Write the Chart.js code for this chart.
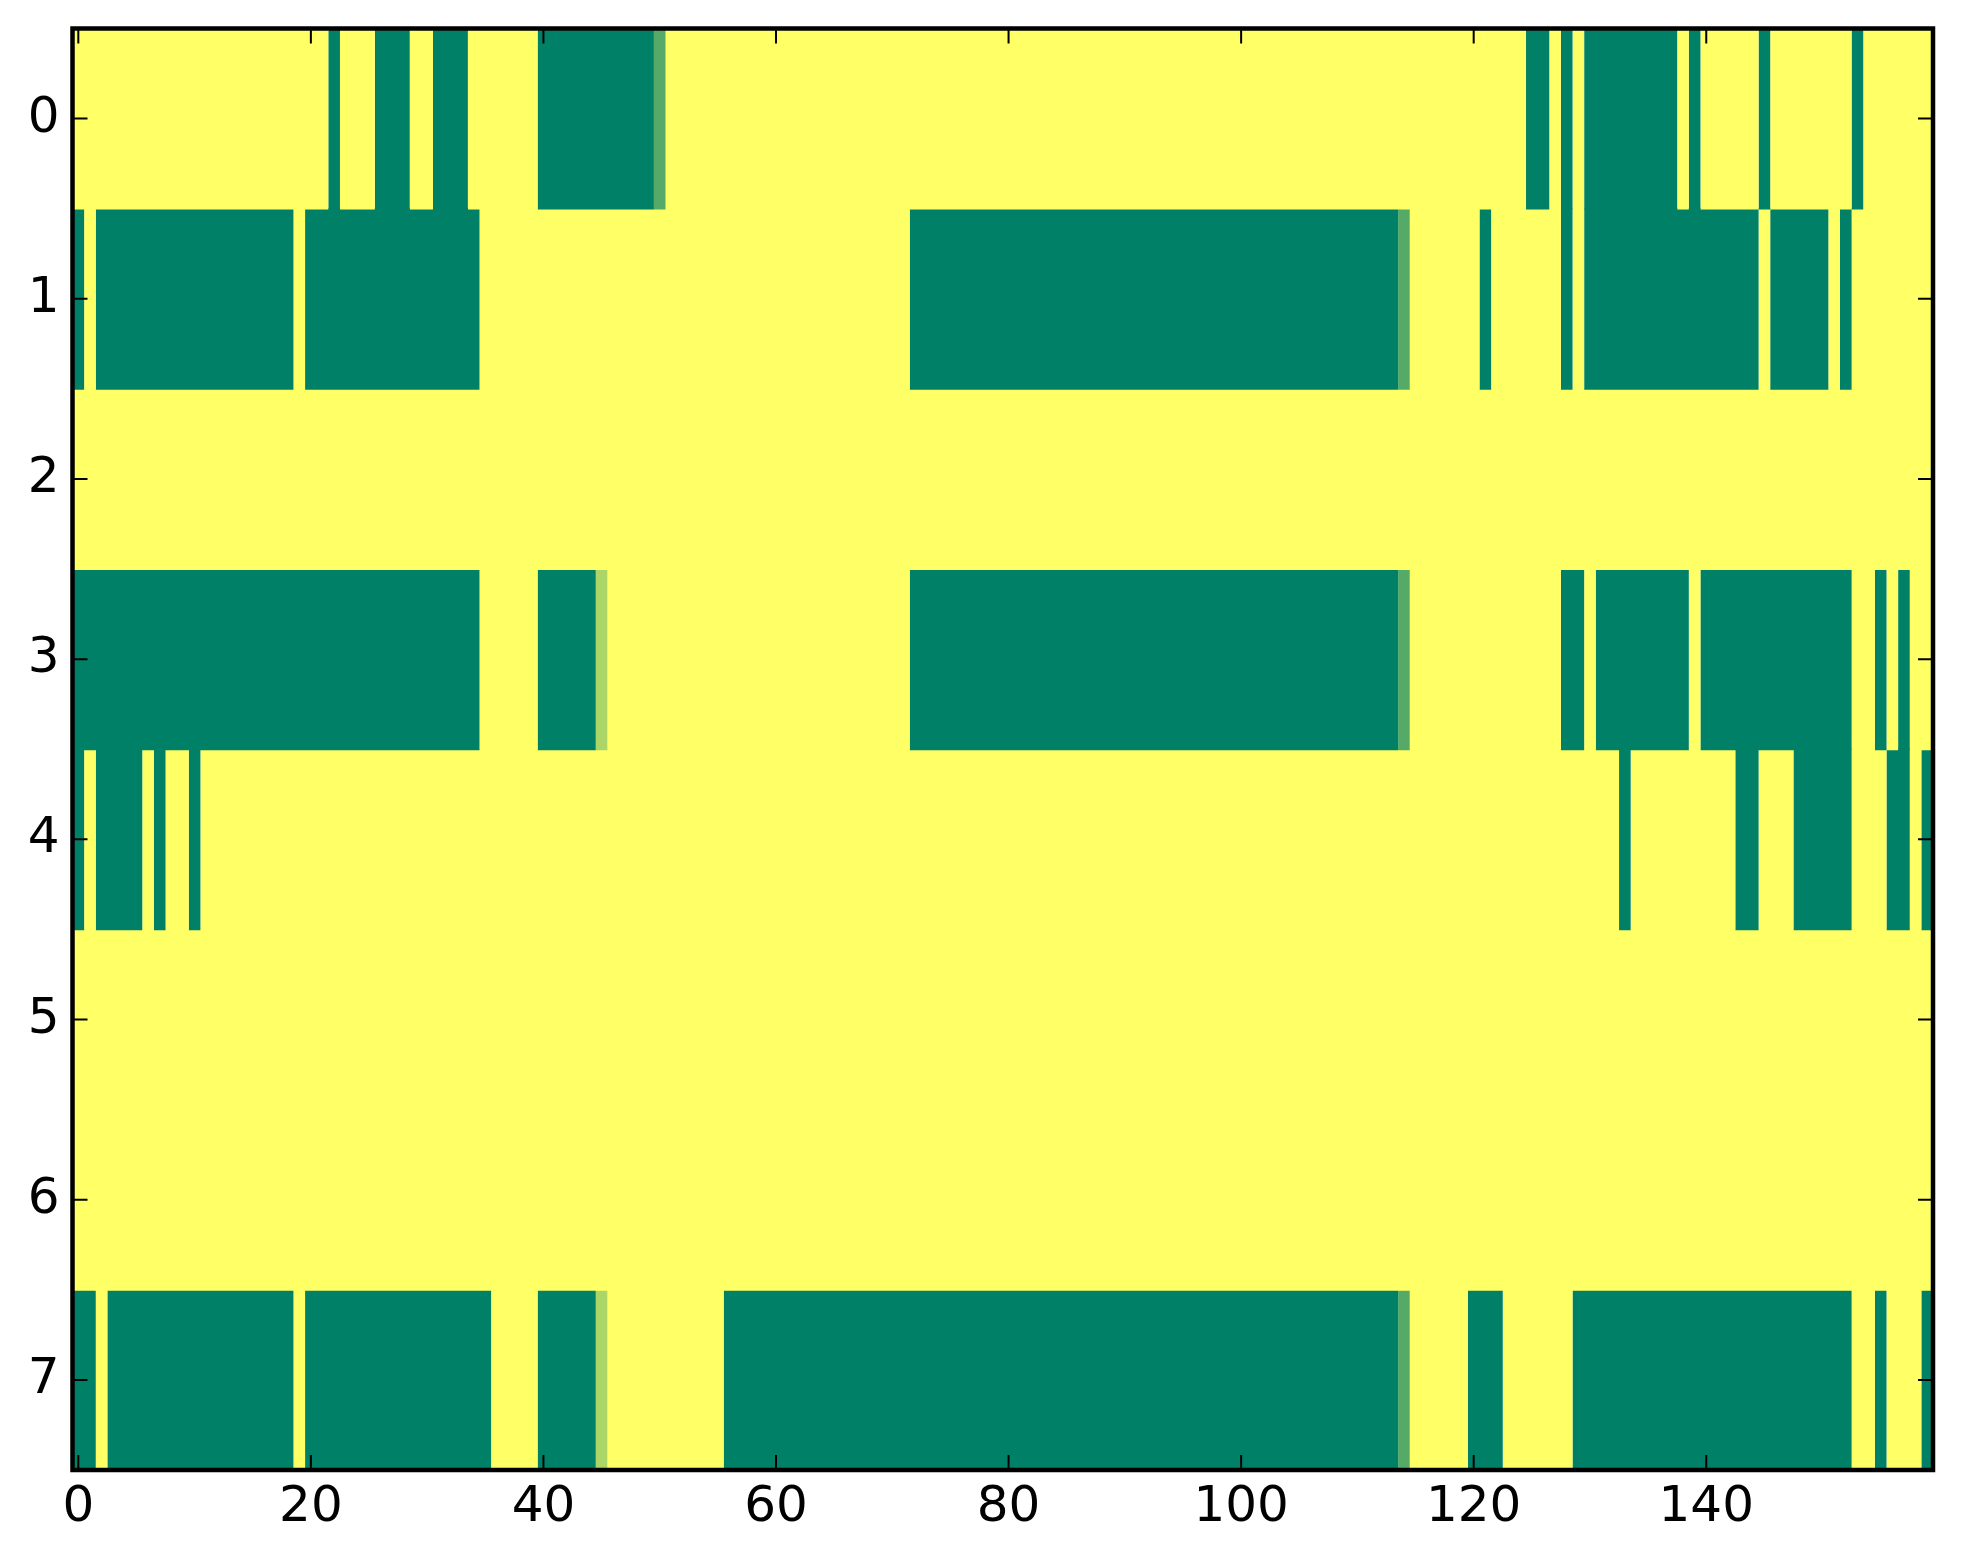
<!DOCTYPE html>
<html>
<head>
<meta charset="utf-8">
<title>heatmap</title>
<script src="https://cdn.jsdelivr.net/npm/chart.js@4.4.1/dist/chart.umd.min.js"></script>
<style>
    html, body { margin: 0; padding: 0; background: #ffffff; }
    canvas { display: block; }
</style>
</head>
<body>
<canvas id="heatChart" width="1963" height="1564"></canvas>
<script>
const rowLabels = ["0", "1", "2", "3", "4", "5", "6", "7"];
const xTickValues = [0, 20, 40, 60, 80, 100, 120, 140];

// one array per image row, 160 cells each (1 = yellow, 0 = green)
const row0 = [
    1,1,1,1,1,1,1,1,1,1,1,1,1,1,1,1,1,1,1,1,
    1,1,0,1,1,1,0,0,0,1,1,0,0,0,1,1,1,1,1,1,
    0,0,0,0,0,0,0,0,0,0,0.33,1,1,1,1,1,1,1,1,1,
    1,1,1,1,1,1,1,1,1,1,1,1,1,1,1,1,1,1,1,1,
    1,1,1,1,1,1,1,1,1,1,1,1,1,1,1,1,1,1,1,1,
    1,1,1,1,1,1,1,1,1,1,1,1,1,1,1,1,1,1,1,1,
    1,1,1,1,1,0,0,1,0,1,0,0,0,0,0,0,0,0,1,0,
    1,1,1,1,1,0,1,1,1,1,1,1,1,0,1,1,1,1,1,1
];
const row1 = [
    0,1,0,0,0,0,0,0,0,0,0,0,0,0,0,0,0,0,0,1,
    0,0,0,0,0,0,0,0,0,0,0,0,0,0,0,1,1,1,1,1,
    1,1,1,1,1,1,1,1,1,1,1,1,1,1,1,1,1,1,1,1,
    1,1,1,1,1,1,1,1,1,1,1,1,0,0,0,0,0,0,0,0,
    0,0,0,0,0,0,0,0,0,0,0,0,0,0,0,0,0,0,0,0,
    0,0,0,0,0,0,0,0,0,0,0,0,0,0,0.33,1,1,1,1,1,
    1,0,1,1,1,1,1,1,0,1,0,0,0,0,0,0,0,0,0,0,
    0,0,0,0,0,1,0,0,0,0,0,1,0,1,1,1,1,1,1,1
];
const row2 = [
    1,1,1,1,1,1,1,1,1,1,1,1,1,1,1,1,1,1,1,1,
    1,1,1,1,1,1,1,1,1,1,1,1,1,1,1,1,1,1,1,1,
    1,1,1,1,1,1,1,1,1,1,1,1,1,1,1,1,1,1,1,1,
    1,1,1,1,1,1,1,1,1,1,1,1,1,1,1,1,1,1,1,1,
    1,1,1,1,1,1,1,1,1,1,1,1,1,1,1,1,1,1,1,1,
    1,1,1,1,1,1,1,1,1,1,1,1,1,1,1,1,1,1,1,1,
    1,1,1,1,1,1,1,1,1,1,1,1,1,1,1,1,1,1,1,1,
    1,1,1,1,1,1,1,1,1,1,1,1,1,1,1,1,1,1,1,1
];
const row3 = [
    0,0,0,0,0,0,0,0,0,0,0,0,0,0,0,0,0,0,0,0,
    0,0,0,0,0,0,0,0,0,0,0,0,0,0,0,1,1,1,1,1,
    0,0,0,0,0,0.67,1,1,1,1,1,1,1,1,1,1,1,1,1,1,
    1,1,1,1,1,1,1,1,1,1,1,1,0,0,0,0,0,0,0,0,
    0,0,0,0,0,0,0,0,0,0,0,0,0,0,0,0,0,0,0,0,
    0,0,0,0,0,0,0,0,0,0,0,0,0,0,0.33,1,1,1,1,1,
    1,1,1,1,1,1,1,1,0,0,1,0,0,0,0,0,0,0,0,1,
    0,0,0,0,0,0,0,0,0,0,0,0,0,1,1,0,1,0,1,1
];
const row4 = [
    0,1,0,0,0,0,1,0,1,1,0,1,1,1,1,1,1,1,1,1,
    1,1,1,1,1,1,1,1,1,1,1,1,1,1,1,1,1,1,1,1,
    1,1,1,1,1,1,1,1,1,1,1,1,1,1,1,1,1,1,1,1,
    1,1,1,1,1,1,1,1,1,1,1,1,1,1,1,1,1,1,1,1,
    1,1,1,1,1,1,1,1,1,1,1,1,1,1,1,1,1,1,1,1,
    1,1,1,1,1,1,1,1,1,1,1,1,1,1,1,1,1,1,1,1,
    1,1,1,1,1,1,1,1,1,1,1,1,1,0,1,1,1,1,1,1,
    1,1,1,0,0,1,1,1,0,0,0,0,0,1,1,1,0,0,1,0
];
const row5 = row2.slice();
const row6 = row2.slice();
const row7 = [
    0,0,1,0,0,0,0,0,0,0,0,0,0,0,0,0,0,0,0,1,
    0,0,0,0,0,0,0,0,0,0,0,0,0,0,0,0,1,1,1,1,
    0,0,0,0,0,0.67,1,1,1,1,1,1,1,1,1,1,0,0,0,0,
    0,0,0,0,0,0,0,0,0,0,0,0,0,0,0,0,0,0,0,0,
    0,0,0,0,0,0,0,0,0,0,0,0,0,0,0,0,0,0,0,0,
    0,0,0,0,0,0,0,0,0,0,0,0,0,0,0.33,1,1,1,1,1,
    0,0,0,1,1,1,1,1,1,0,0,0,0,0,0,0,0,0,0,0,
    0,0,0,0,0,0,0,0,0,0,0,0,0,1,1,0,1,1,1,0
];
const rows = [row0, row1, row2, row3, row4, row5, row6, row7];

// matplotlib "summer" colormap
function summer(v) {
    return `rgb(${Math.round(255 * v)}, ${Math.round(127.5 + 127.5 * v)}, 102)`;
}

// join neighbouring equal cells into one floating bar so no seams show
function buildDatasets() {
    let sets = [];
    rows.forEach((row, r) => {
        let start = 0;
        for (let c = 1; c <= row.length; c++) {
            if (c === row.length || row[c] !== row[start]) {
                let data = rowLabels.map(() => null);
                data[r] = [start - 0.5, c - 0.5];
                sets.push({
                    data: data,
                    backgroundColor: summer(row[start]),
                    borderWidth: 0,
                    grouped: false,
                    barPercentage: 1.01,
                    categoryPercentage: 1
                });
                start = c;
            }
        }
    });
    return sets;
}

const frameAndTicks = {
    id: "frameAndTicks",
    afterDatasetsDraw(chart) {
        let ctx = chart.ctx;
        let a = chart.chartArea;
        let x = chart.scales.x;
        let y = chart.scales.y;
        ctx.save();
        ctx.strokeStyle = "#000";
        ctx.lineWidth = 2;
        ctx.beginPath();
        xTickValues.forEach(v => {
            let px = x.getPixelForValue(v);
            ctx.moveTo(px, a.bottom);
            ctx.lineTo(px, a.bottom - 15);
            ctx.moveTo(px, a.top);
            ctx.lineTo(px, a.top + 15);
        });
        rowLabels.forEach((_, i) => {
            let py = y.getPixelForValue(i);
            ctx.moveTo(a.left, py);
            ctx.lineTo(a.left + 15, py);
            ctx.moveTo(a.right, py);
            ctx.lineTo(a.right - 15, py);
        });
        ctx.stroke();
        ctx.lineWidth = 4.5;
        ctx.strokeRect(a.left, a.top, a.right - a.left, a.bottom - a.top);
        ctx.restore();
    }
};

const tickFont = { family: "'DejaVu Sans', sans-serif", size: 50 };

new Chart(document.getElementById("heatChart").getContext("2d"), {
    type: "bar",
    data: {
        labels: rowLabels,
        datasets: buildDatasets()
    },
    options: {
        indexAxis: "y",
        responsive: false,
        animation: false,
        layout: { padding: { top: 28.5, right: 30, left: 0, bottom: 0 } },
        plugins: {
            legend: { display: false },
            tooltip: { enabled: false }
        },
        scales: {
            x: {
                type: "linear",
                position: "bottom",
                min: -0.5,
                max: 159.5,
                grid: { display: false },
                border: { display: false },
                afterBuildTicks: scale => {
                    scale.ticks = xTickValues.map(v => ({ value: v }));
                },
                afterFit: scale => {
                    scale.height = 94;
                    scale.paddingLeft = 0;
                    scale.paddingRight = 0;
                },
                ticks: {
                    font: tickFont,
                    color: "#000",
                    padding: 0,
                    maxRotation: 0,
                    autoSkip: false
                }
            },
            y: {
                type: "category",
                offset: true,
                grid: { display: false },
                border: { display: false },
                afterFit: scale => {
                    scale.width = 72.5;
                    scale.paddingTop = 0;
                    scale.paddingBottom = 0;
                },
                ticks: {
                    font: tickFont,
                    color: "#000",
                    padding: 5
                }
            }
        }
    },
    plugins: [frameAndTicks]
});
</script>
</body>
</html>
